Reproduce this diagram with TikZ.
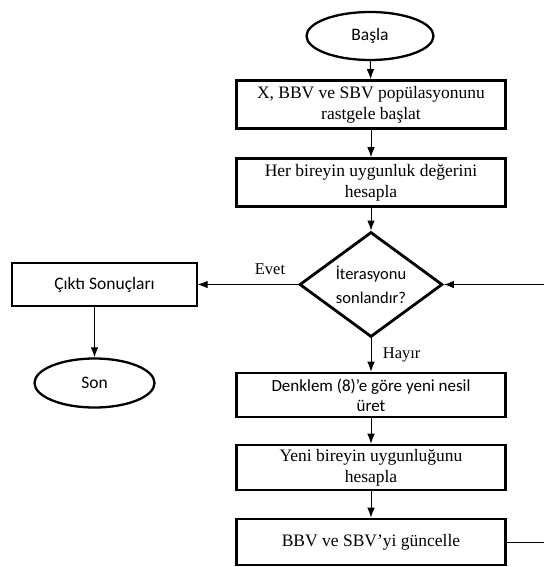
\documentclass[tikz,border=0pt]{standalone}
\usepackage{fontspec}
\setmainfont{Liberation Serif}
\newfontfamily\calibfont{Carlito}
\usetikzlibrary{shapes.geometric,arrows.meta}

\begin{document}
\begin{tikzpicture}[node distance=70pt, auto,
    block/.style={rectangle, draw, line width=2.6pt, minimum width=269pt, minimum height=48pt, align=center, inner sep=2pt, font=\fontsize{17.5}{21}\selectfont},
    outblock/.style={rectangle, draw, line width=1.2pt, minimum width=185pt, minimum height=43pt, font=\calibfont\fontsize{17.5}{20}\selectfont},
    term/.style={ellipse, draw, line width=2.3pt, minimum width=127pt, minimum height=48pt, font=\calibfont\fontsize{17.5}{20}\selectfont},
    decision/.style={diamond, draw, line width=2.8pt, minimum width=143pt, minimum height=105pt, inner sep=0pt},
    line/.style={draw, -{Latex[length=10pt,width=7.5pt]}, line width=1pt}]

    \useasboundingbox (0pt,0pt) rectangle (543pt,-567pt);

    \node [term] (start) at (370pt,-36pt) {Başla};
    \node [block, below of=start, node distance=68.5pt, xshift=1pt] (init) {X, BBV ve SBV popülasyonunu\\rastgele başlat};
    \node [block, below of=init, node distance=78pt] (fit) {Her bireyin uygunluk değerini\\hesapla};
    \node [decision, below of=fit, node distance=102pt, label={[align=center, font=\calibfont\fontsize{16.5}{24}\selectfont]center:İterasyonu\\sonlandır?}] (dec) {};
    \node [outblock, left of=dec, node distance=266.5pt] (out) {Çıktı Sonuçları};
    \node [term, below of=out, node distance=98.5pt, xshift=-10pt, minimum width=120pt, minimum height=49pt] (stop) {Son};
    \node [block, below of=dec, node distance=110.5pt, minimum height=44pt, font=\calibfont\fontsize{17}{20}\selectfont] (gen) {Denklem (8)’e göre yeni nesil\\üret};
    \node [block, below of=gen, node distance=72.5pt, minimum height=45pt] (eval) {Yeni bireyin uygunluğunu\\hesapla};
    \node [block, below of=eval, node distance=74.5pt, minimum height=46pt] (upd) {BBV ve SBV’yi güncelle};

    \path [line] (start) -- (init);
    \path [line] (init) -- (fit);
    \path [line] (fit) -- (dec);
    \path [line] (dec.west) -- node [pos=0.28, above, yshift=6pt, font=\fontsize{16.5}{19}\selectfont] {Evet} (out.east);
    \path [line] (stop.north |- out.south) -- (stop.north);
    \path [line] (dec.south) -- node [right, xshift=8pt, font=\fontsize{16.5}{19}\selectfont] {Hayır} (gen.north);
    \path [line] (gen) -- (eval);
    \path [line] (eval) -- (upd);
    \path [line] (upd.east) -- ++(42pt,0) |- (dec.east);
\end{tikzpicture}
\end{document}
